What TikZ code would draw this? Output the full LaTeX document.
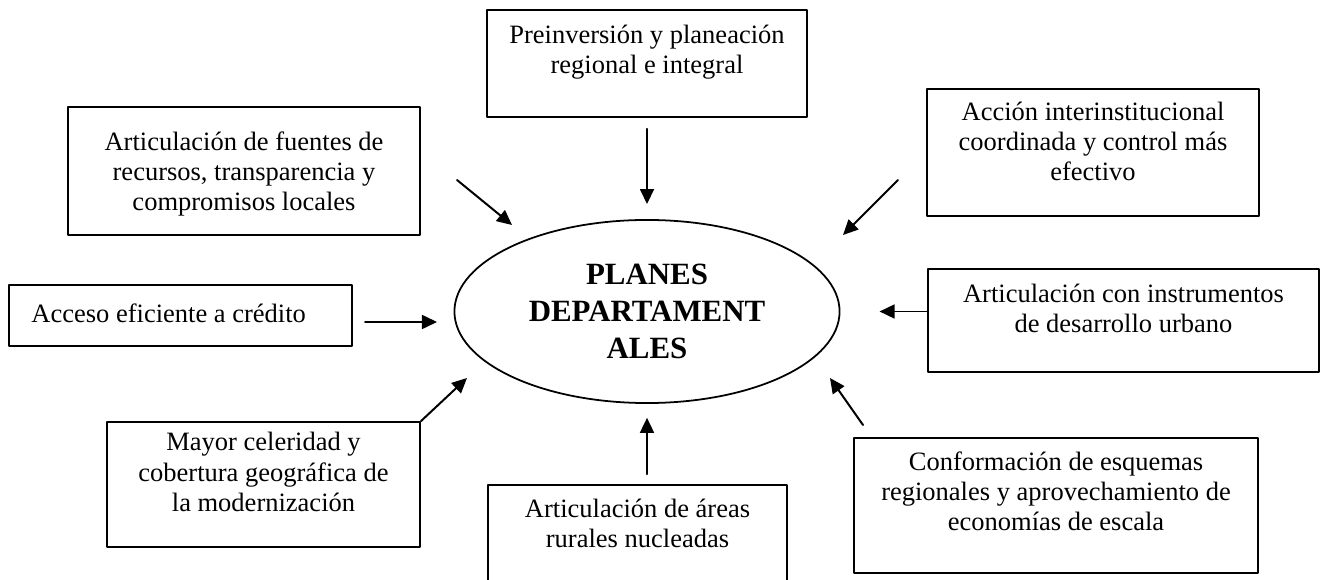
\documentclass[tikz,border=0pt]{standalone}
\usepackage{fontspec}
\setmainfont{Liberation Serif}
\usetikzlibrary{arrows.meta}
\usetikzlibrary{positioning}
\usetikzlibrary{shapes.geometric}

\tikzset{
  caja/.style={draw,line width=0.8pt,inner sep=0pt},
  texto/.style={align=center,inner sep=0pt,font=\fontsize{12}{13.6}\selectfont},
  flecha/.style={->,line width=0.9pt},
}

\begin{document}
\begin{tikzpicture}[line cap=round,line join=round,>={Triangle[length=6.8pt,width=6.3pt]},x=0.01592cm,y=-0.01592cm]
\useasboundingbox (0,0) rectangle (1323,580);
\clip (0,0) rectangle (1323,580);
%centro
\node[ellipse,draw,line width=0.8pt,inner sep=0pt,minimum width=174.4pt,minimum height=82.9pt,
  align=center,font=\fontsize{14}{16.8}\selectfont\bfseries] (plan) at (647,311.5)
  {PLANES\\DEPARTAMENT\\ALES};
%cajas
\node[caja,minimum width=145pt,minimum height=48.5pt] (pre) at (647,63.5) {};
\node[texto,below=7pt of pre.north] (pretxt) {Preinversión y planeación\\regional e integral};
\node[caja,minimum width=159.4pt,minimum height=58pt] (fuentes) at (244,171) {};
\node[texto,below=11.5pt of fuentes.north] (fuentestxt) {Articulación de fuentes de\\recursos, transparencia y\\compromisos locales};
\node[caja,minimum width=150.4pt,minimum height=57.5pt] (accion) at (1093,152.5) {};
\node[texto,below=6.3pt of accion.north] (acciontxt) {Acción interinstitucional\\coordinada y control más\\efectivo};
\node[caja,minimum width=155.4pt,minimum height=27.6pt] (acceso) at (180.5,315.5) {};
\node[texto,right=10.4pt of acceso.west,yshift=0.8pt] (accesotxt) {Acceso eficiente a crédito};
\node[caja,minimum width=177.1pt,minimum height=46.7pt] (instr) at (1123.5,320.5) {};
\node[texto,below=7pt of instr.north] (instrtxt) {Articulación con instrumentos\\de desarrollo urbano};
\node[caja,minimum width=183pt,minimum height=61.2pt] (conform) at (1056,505.5) {};
\node[texto,below=6.3pt of conform.north] (conformtxt) {Conformación de esquemas\\regionales y aprovechamiento de\\economías de escala};
\node[caja,minimum width=135.4pt,minimum height=54.4pt] (rurales) at (637.5,545) {};
\node[texto,below=6.8pt of rurales.north] (ruralestxt) {Articulación de áreas\\rurales nucleadas};
\node[caja,minimum width=141.8pt,minimum height=56.6pt] (mayor) at (263.5,484.5) {};
\node[texto,below=5pt of mayor.north] (mayortxt) {Mayor celeridad y\\cobertura geográfica de\\la modernización};
%puntas libres
\coordinate (fuentesA) at (457,180);
\coordinate (fuentesB) at (512,225);
\coordinate (accionA) at (898,180);
\coordinate (accionB) at (843,235);
\coordinate (accesoA) at (365,322);
\coordinate (accesoB) at (437,322);
\coordinate (conformA) at (863,425);
\coordinate (conformB) at (830,378);
\coordinate (mayorB) at (467,378);
%flechas
\draw[flecha,shorten <=5pt,shorten >=6.8pt] (plan.north |- pre.south) -- (plan.north);
\draw[flecha] (fuentesA) -- (fuentesB);
\draw[flecha] (accionA) -- (accionB);
\draw[flecha] (accesoA) -- (accesoB);
\draw[flecha,shorten >=17.7pt] (plan.east -| instr.west) -- (plan.east);
\draw[flecha] (conformA) -- (conformB);
\draw[flecha,shorten <=4.5pt,shorten >=6.3pt] (plan.south |- rurales.north) -- (plan.south);
\draw[flecha] (mayor.north east) -- (mayorB);
\end{tikzpicture}
\end{document}
